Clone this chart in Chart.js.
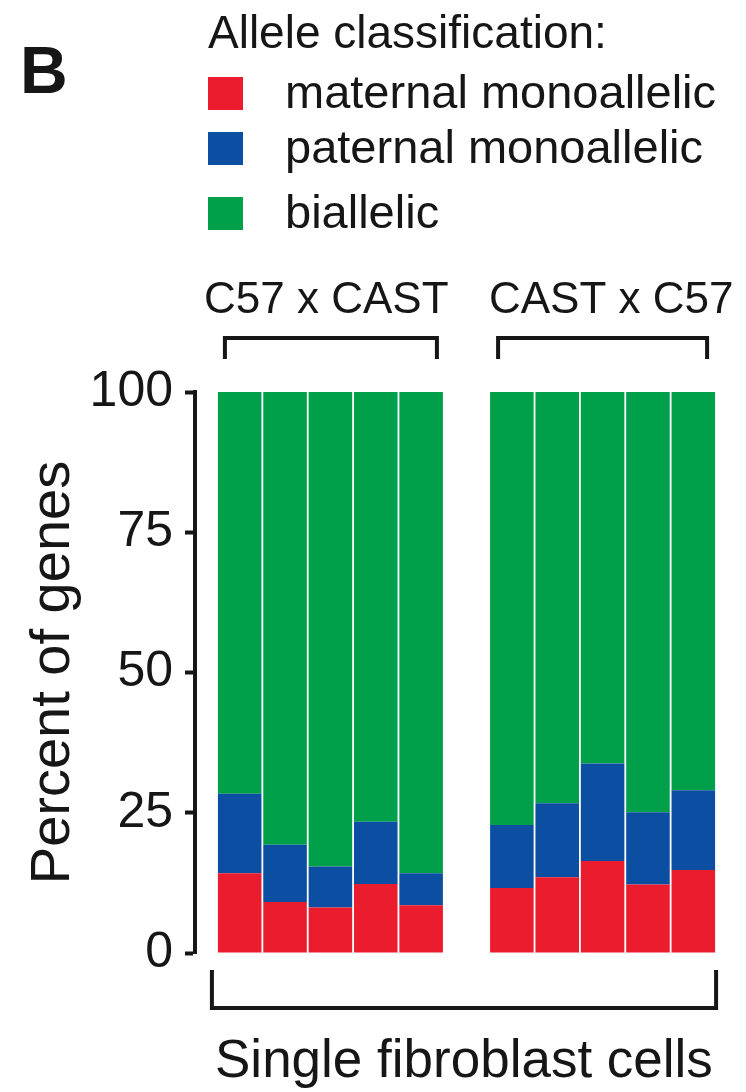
<!DOCTYPE html>
<html>
<head>
<meta charset="utf-8">
<script src="https://cdn.jsdelivr.net/npm/chart.js@4"></script>
<style>
  html, body { margin: 0; padding: 0; background: #fff; }
  #wrap { position: relative; width: 746px; height: 1092px; }
</style>
</head>
<body>
<div id="wrap"><canvas id="c"></canvas></div>
<script>
// ---- data ----
const groups = ['C57 x CAST', 'CAST x C57'];
const cellsPerGroup = ['cell 1', 'cell 2', 'cell 3', 'cell 4', 'cell 5'];
const seriesNames = ['maternal monoallelic', 'paternal monoallelic', 'biallelic'];
const seriesColors = ['#EB1C2D', '#0B4EA2', '#00A04B'];

const maternalC57xCAST = [14.2, 9.1, 8.1, 12.3, 8.5];
const paternalC57xCAST = [14.2, 10.2, 7.3, 11.1, 5.7];
const biallelicC57xCAST = [71.6, 80.7, 84.6, 76.6, 85.8];

const maternalCASTxC57 = [11.6, 13.5, 16.4, 12.2, 14.8];
const paternalCASTxC57 = [11.2, 13.2, 17.4, 12.9, 14.2];
const biallelicCASTxC57 = [77.2, 73.3, 66.2, 74.9, 71.0];

const yTicks = [0, 25, 50, 75, 100];
const yTitle = 'Percent of genes';
const xTitle = 'Single fibroblast cells';
const legendTitle = 'Allele classification:';
const panelLetter = 'B';

// build category axis: group 1, empty spacer, group 2
const labels = [...cellsPerGroup.map(c => groups[0] + ' ' + c), '', ...cellsPerGroup.map(c => groups[1] + ' ' + c)];
const join = (a, b) => [...a, null, ...b];
const seriesData = [
  join(maternalC57xCAST, maternalCASTxC57),
  join(paternalC57xCAST, paternalCASTxC57),
  join(biallelicC57xCAST, biallelicCASTxC57)
];

const FONT = '"Liberation Sans", Arial, Helvetica, sans-serif';
const INK = '#161616';
const AXIS_GAP = 22; // white gap between y axis line and first bar

const annot = {
  id: 'annot',
  afterLayout(chart) {
    // detach the y axis slightly to the left of the plotting area
    const y = chart.scales.y;
    y.left -= AXIS_GAP;
    y.right -= AXIS_GAP;
  },
  afterDraw(chart) {
    const ctx = chart.ctx;
    const xs = chart.scales.x;
    const meta = chart.getDatasetMeta(0);
    const half = meta.data[0].width / 2;
    const n = cellsPerGroup.length;
    const g1L = xs.getPixelForValue(0) - half;
    const g1R = xs.getPixelForValue(n - 1) + half;
    const g2L = xs.getPixelForValue(n + 1) - half;
    const g2R = xs.getPixelForValue(2 * n) + half;

    ctx.save();
    ctx.fillStyle = INK;
    ctx.strokeStyle = INK;
    ctx.textBaseline = 'alphabetic';
    ctx.textAlign = 'left';

    // panel letter
    ctx.font = 'bold 66px ' + FONT;
    ctx.fillText(panelLetter, 20, 93);

    // legend
    ctx.font = '46px ' + FONT;
    ctx.fillText(legendTitle, 208, 48);
    const swY = [77, 132, 197];
    const txY = [108, 163, 228];
    ctx.font = '47px ' + FONT;
    for (let i = 0; i < seriesNames.length; i++) {
      ctx.fillStyle = seriesColors[i];
      ctx.fillRect(208, swY[i], 35, 33);
      ctx.fillStyle = INK;
      ctx.fillText(seriesNames[i], 285, txY[i]);
    }

    // group labels
    ctx.font = '44px ' + FONT;
    ctx.fillText(groups[0], 204, 313);
    ctx.fillText(groups[1], 489, 313);

    // brackets
    ctx.lineWidth = 4;
    ctx.lineCap = 'butt';
    ctx.lineJoin = 'miter';
    const topBracket = (a, b) => {
      ctx.beginPath();
      ctx.moveTo(a, 359); ctx.lineTo(a, 338); ctx.lineTo(b, 338); ctx.lineTo(b, 359);
      ctx.stroke();
    };
    topBracket(g1L + 7, g1R - 6);
    topBracket(g2L + 8, g2R - 8);

    ctx.beginPath();
    ctx.moveTo(g1L - 6, 970); ctx.lineTo(g1L - 6, 1008); ctx.lineTo(g2R + 1, 1008); ctx.lineTo(g2R + 1, 970);
    ctx.stroke();

    // x title
    ctx.font = '53px ' + FONT;
    ctx.fillText(xTitle, 215, 1077);
    ctx.restore();
  }
};

new Chart(document.getElementById('c'), {
  type: 'bar',
  data: {
    labels: labels,
    datasets: seriesNames.map((name, i) => ({
      label: name,
      data: seriesData[i],
      backgroundColor: seriesColors[i],
      borderWidth: 0,
      barPercentage: 0.96,
      categoryPercentage: 1.0
    }))
  },
  options: {
    responsive: true,
    maintainAspectRatio: false,
    animation: false,
    devicePixelRatio: 1,
    layout: { padding: { left: 16 + AXIS_GAP, right: 30, top: 392, bottom: 139 } },
    plugins: { legend: { display: false }, tooltip: { enabled: false }, title: { display: false } },
    scales: {
      x: {
        stacked: true,
        offset: true,
        display: false,
        grid: { display: false }
      },
      y: {
        stacked: true,
        min: 0,
        max: 100,
        afterBuildTicks: (s) => { s.ticks = yTicks.map(v => ({ value: v })); },
        afterFit: (s) => { s.width = 179; },
        border: { display: true, width: 4, color: INK },
        grid: { drawOnChartArea: false, drawTicks: true, tickLength: 10, tickWidth: 4, tickColor: INK, color: INK },
        ticks: {
          padding: 12,
          color: INK,
          font: { family: FONT, size: 50 }
        },
        title: {
          display: true,
          text: yTitle,
          color: INK,
          font: { family: FONT, size: 56 },
          padding: { top: 4, bottom: 4 }
        }
      }
    }
  },
  plugins: [annot]
});
</script>
</body>
</html>
